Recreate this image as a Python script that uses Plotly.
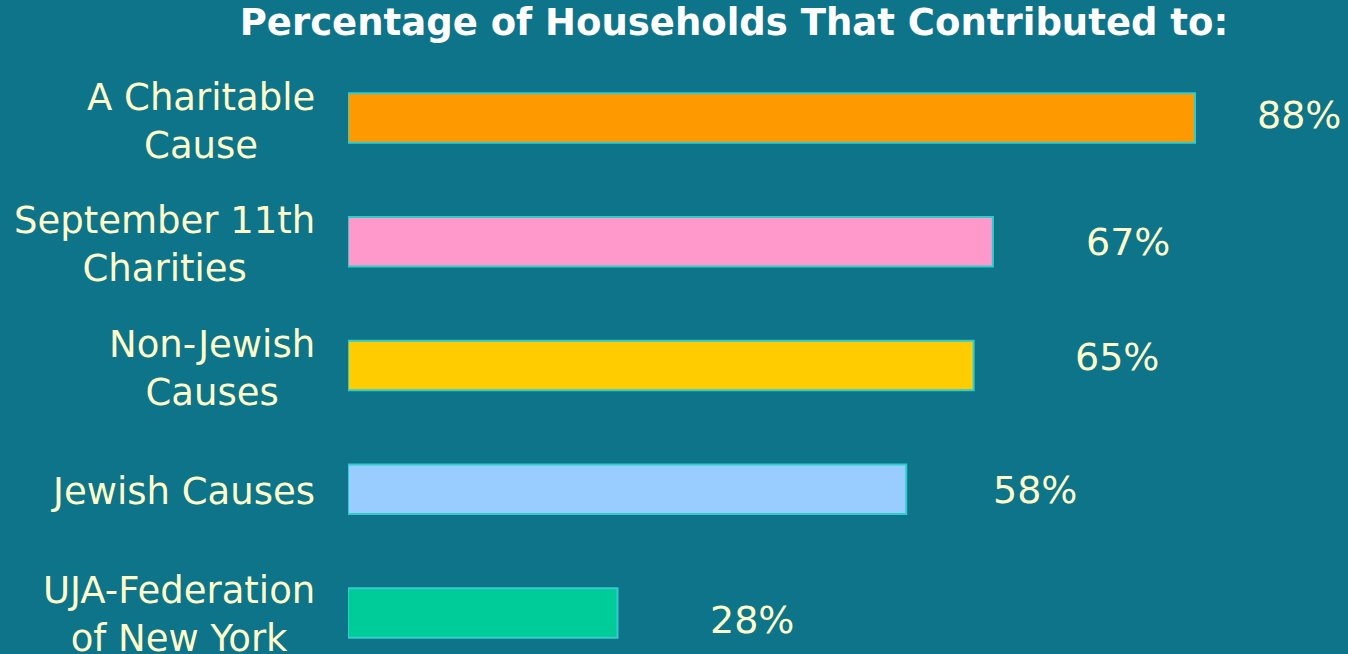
import plotly.graph_objects as go

categories = ["A Charitable<br>Cause", "September 11th<br>Charities", "Non-Jewish<br>Causes",
              "Jewish Causes", "UJA-Federation<br>of New York"]
values = [88, 67, 65, 58, 28]
value_labels = ["88%", "67%", "65%", "58%", "28%"]
bar_colors = ["#FF9900", "#FF99CC", "#FFCC00", "#99CCFF", "#00CC99"]

# label placement (pixel offsets)
val_xshift = [63, 94, 102, 88, 93]
val_yshift = [3, 0, 9, -1, -7]
cat_yshift = [-3, -3, -3, -2, -1]

BG = "#0E7489"
TXT = "#FFFFCC"
FONT = "DejaVu Sans"

idx = list(range(len(categories)))

fig = go.Figure(go.Bar(
    x=values, y=idx, orientation="h", width=0.4,
    marker=dict(color=bar_colors, line=dict(color="#33CCCC", width=2)),
    hoverinfo="skip",
))

ann = []
for i, (c, v, t) in enumerate(zip(categories, values, value_labels)):
    ann.append(dict(x=0, xref="paper", y=i, yref="y", text=c, showarrow=False,
                    xanchor="right", yanchor="middle", align="center",
                    xshift=-31, yshift=cat_yshift[i],
                    font=dict(family=FONT, size=37, color=TXT)))
    ann.append(dict(x=v, xref="x", y=i, yref="y", text=t, showarrow=False,
                    xanchor="left", yanchor="middle",
                    xshift=val_xshift[i] - 3, yshift=val_yshift[i],
                    font=dict(family=FONT, size=38, color=TXT)))

fig.update_layout(
    width=1348, height=654,
    paper_bgcolor=BG, plot_bgcolor=BG,
    margin=dict(l=348, r=0, t=0, b=0),
    showlegend=False,
    title=dict(text="<b>Percentage of Households That Contributed to:</b>",
               x=734 / 1348, xanchor="center", y=1 - 22 / 654, yanchor="middle",
               font=dict(family=FONT, size=37, color="#FFFFFF")),
    xaxis=dict(range=[0, 1000 / 9.625], visible=False, fixedrange=True),
    yaxis=dict(range=[(654 - 118) / 123.75, -118 / 123.75], visible=False, fixedrange=True),
    annotations=ann,
)

fig.write_html("out.html", config={"displayModeBar": False},
               post_script="document.body.style.margin='0';document.body.style.overflow='hidden';")
